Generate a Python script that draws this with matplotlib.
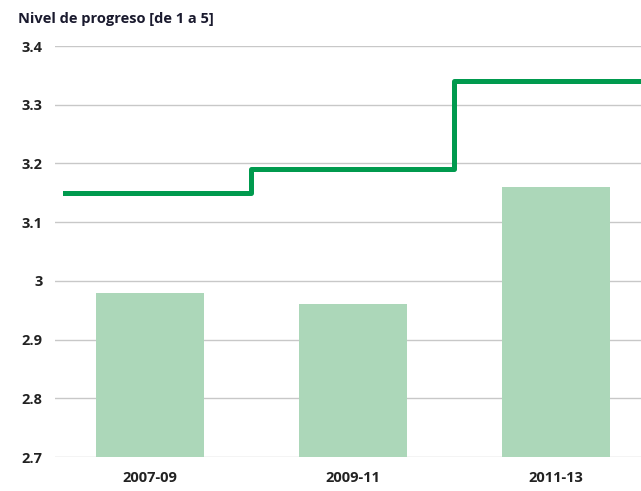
import matplotlib.pyplot as plt

# data
periods = ['2007-09', '2009-11', '2011-13']
bar_values = [2.98, 2.96, 3.16]
step_x = [-0.42, 0.5, 1.5, 2.42]
step_y = [3.15, 3.19, 3.34, 3.34]
yticks = [2.7, 2.8, 2.9, 3.0, 3.1, 3.2, 3.3, 3.4]
ytick_labels = ['2.7', '2.8', '2.9', '3', '3.1', '3.2', '3.3', '3.4']


def main():
    plt.rcParams['font.family'] = ['Open Sans', 'DejaVu Sans']

    fig = plt.figure(figsize=(6.41, 4.91), dpi=100)
    ax = fig.add_axes([0.0858, 0.0692, 0.9142, 0.8371])

    ax.bar(range(len(periods)), bar_values, width=0.53, color='#acd7b9', zorder=2)
    ax.step(step_x, step_y, where='post', color='#009a4e', linewidth=3.6, zorder=3)

    ax.set_xlim(-0.468, 2.42)
    ax.set_ylim(2.7, 3.4)
    ax.set_yticks(yticks)
    ax.set_yticklabels(ytick_labels, fontsize=10.5, fontweight='bold', color='#222222')
    ax.set_xticks(range(len(periods)))
    ax.set_xticklabels(periods, fontsize=10.5, fontweight='bold', color='#222222')
    ax.tick_params(axis='y', length=0, pad=9)
    ax.tick_params(axis='x', length=0, pad=10)
    ax.grid(axis='y', color='#c8c8c8', linewidth=1.0, zorder=0)
    for s in ax.spines.values():
        s.set_visible(False)

    fig.text(0.028, 0.962, 'Nivel de progreso [de 1 a 5]', fontsize=10.5,
             fontweight='bold', color='#1a1a2e', va='center', ha='left')

    plt.savefig('out.png', dpi=100)


if __name__ == "__main__":
    main()
